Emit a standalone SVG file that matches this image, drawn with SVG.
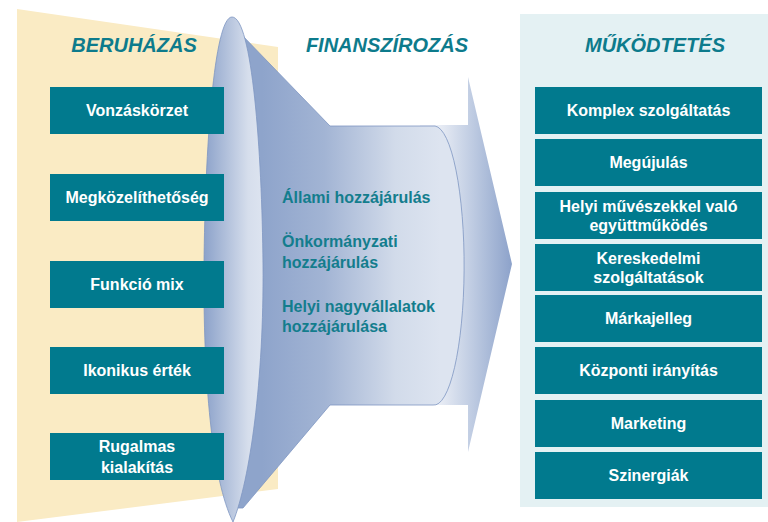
<svg xmlns="http://www.w3.org/2000/svg" width="768" height="522" viewBox="0 0 768 522">
<defs>
<linearGradient id="gLens" x1="0" y1="0" x2="1" y2="0">
<stop offset="0" stop-color="#8CA2CA"/>
<stop offset="0.75" stop-color="#D6DEEC"/>
<stop offset="1" stop-color="#DDE4F0"/>
</linearGradient>
<linearGradient id="gBody" gradientUnits="userSpaceOnUse" x1="262" y1="0" x2="440" y2="0">
<stop offset="0" stop-color="#8EA4CB"/>
<stop offset="0.35" stop-color="#A2B4D4"/>
<stop offset="0.75" stop-color="#D2DBEA"/>
<stop offset="1" stop-color="#DDE4F0"/>
</linearGradient>
<linearGradient id="gArrow" gradientUnits="userSpaceOnUse" x1="432" y1="0" x2="514" y2="0">
<stop offset="0" stop-color="#F2F4F9"/>
<stop offset="0.45" stop-color="#C3CFE4"/>
<stop offset="1" stop-color="#8AA0C9"/>
</linearGradient>
<style>
.box{fill:#017A8E}
.bt{font-family:"Liberation Sans",Arial,sans-serif;font-weight:bold;font-size:16px;fill:#FFFFFF;text-anchor:middle}
.title{font-family:"Liberation Sans",Arial,sans-serif;font-weight:bold;font-style:italic;font-size:20px;fill:#0D7B8C;text-anchor:middle}
.mid{font-family:"Liberation Sans",Arial,sans-serif;font-weight:bold;font-size:16px;fill:#137D8D}
.edge{stroke:#7E96C2;stroke-width:0.8}
</style>
</defs>
<rect width="768" height="522" fill="#FFFFFF"/>
<polygon points="17,9 278,47 278,489 17,522" fill="#FAEBC4"/>
<rect x="520" y="14" width="248" height="493" fill="#E4F1F3"/>
<g id="funnel">
<path d="M420 125 L468 125 L468 77 L512 264 L468 452 L468 405 L420 405 Z" fill="url(#gArrow)"/>
<path d="M240 33 L330 126 L435 126 A30 139 0 0 1 433 405 L330 405 L243 508 L232 508 L232 33 Z" fill="url(#gBody)" class="edge"/>
<path d="M232 17 C252 17 262 150 263 265 C264 380 250 480 233 522 C212 480 203 380 204 265 C205 150 214 17 232 17 Z" fill="url(#gLens)" class="edge"/>
</g>
<g id="connectors"></g>
<text class="title" x="134" y="52">BERUHÁZÁS</text>
<text class="title" x="387" y="52">FINANSZÍROZÁS</text>
<text class="title" x="655" y="52">MŰKÖDTETÉS</text>
<g id="n-vonzaskorzet"><rect class="box" x="50" y="87" width="174" height="47"/><text class="bt" x="137" y="116">Vonzáskörzet</text></g>
<g id="n-megkozelithetoseg"><rect class="box" x="50" y="174" width="174" height="47"/><text class="bt" x="137" y="203">Megközelíthetőség</text></g>
<g id="n-funkcio-mix"><rect class="box" x="50" y="261" width="174" height="47"/><text class="bt" x="137" y="290">Funkció mix</text></g>
<g id="n-ikonikus-ertek"><rect class="box" x="50" y="347" width="174" height="47"/><text class="bt" x="137" y="376">Ikonikus érték</text></g>
<g id="n-rugalmas"><rect class="box" x="50" y="433" width="174" height="47"/><text class="bt" x="137" y="452">Rugalmas</text><text class="bt" x="137" y="473">kialakítás</text></g>
<g id="n-finanszirozas-text">
<text class="mid" x="282" y="203">Állami hozzájárulás</text>
<text class="mid" x="282" y="247">Önkormányzati</text>
<text class="mid" x="282" y="268">hozzájárulás</text>
<text class="mid" x="282" y="312">Helyi nagyvállalatok</text>
<text class="mid" x="282" y="332">hozzájárulása</text>
</g>
<g id="n-komplex"><rect class="box" x="535" y="87" width="227" height="47"/><text class="bt" x="648.5" y="116">Komplex szolgáltatás</text></g>
<g id="n-megujulas"><rect class="box" x="535" y="139" width="227" height="47"/><text class="bt" x="648.5" y="168">Megújulás</text></g>
<g id="n-helyi-muveszek"><rect class="box" x="535" y="192" width="227" height="47"/><text class="bt" x="648.5" y="212">Helyi művészekkel való</text><text class="bt" x="648.5" y="231">együttműködés</text></g>
<g id="n-kereskedelmi"><rect class="box" x="535" y="244" width="227" height="47"/><text class="bt" x="648.5" y="264">Kereskedelmi</text><text class="bt" x="648.5" y="283">szolgáltatások</text></g>
<g id="n-markajelleg"><rect class="box" x="535" y="295" width="227" height="47"/><text class="bt" x="648.5" y="324">Márkajelleg</text></g>
<g id="n-kozponti"><rect class="box" x="535" y="347" width="227" height="47"/><text class="bt" x="648.5" y="376">Központi irányítás</text></g>
<g id="n-marketing"><rect class="box" x="535" y="400" width="227" height="47"/><text class="bt" x="648.5" y="429">Marketing</text></g>
<g id="n-szinergiak"><rect class="box" x="535" y="452" width="227" height="47"/><text class="bt" x="648.5" y="481">Szinergiák</text></g>
</svg>
